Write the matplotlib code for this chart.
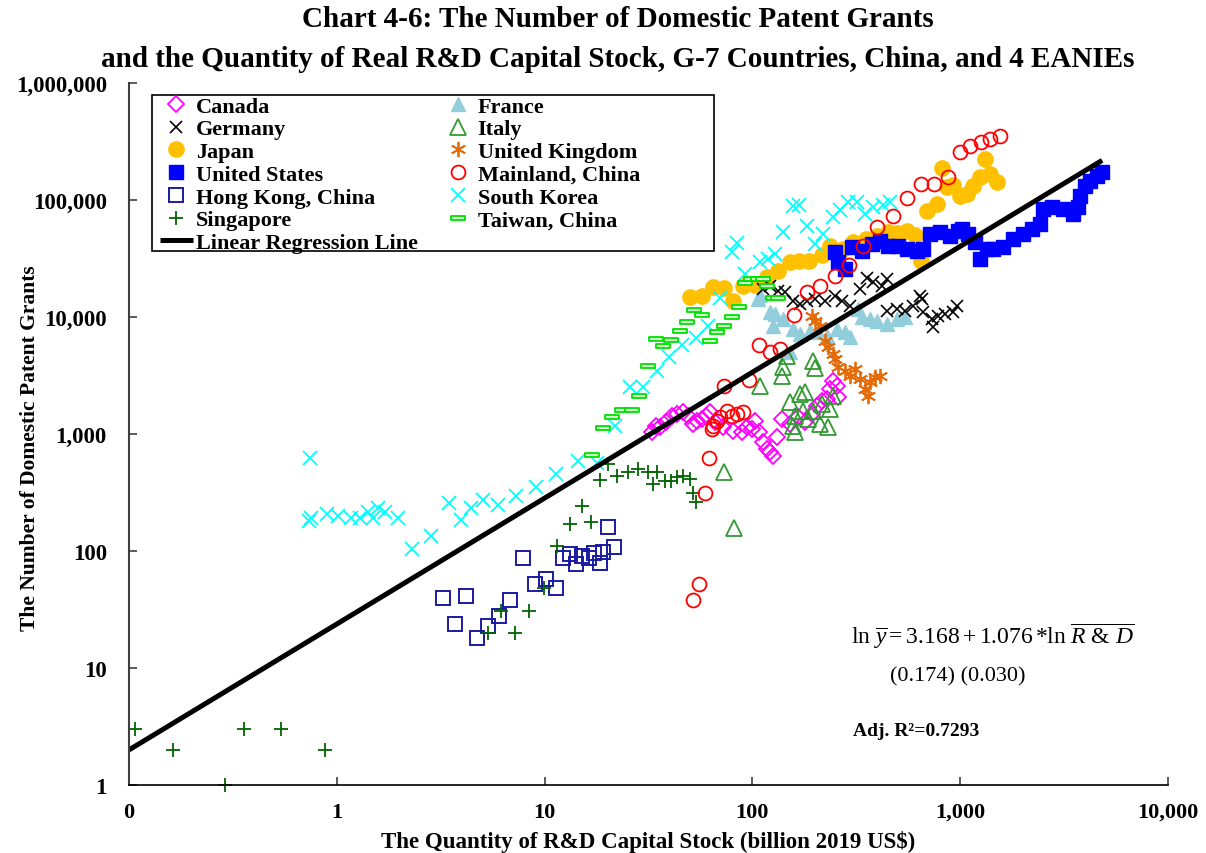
import numpy as np
import matplotlib
matplotlib.use("Agg")
import matplotlib.pyplot as plt
from matplotlib.patches import Rectangle
from matplotlib.path import Path

plt.rcParams['font.family'] = 'Liberation Serif'
plt.rcParams['mathtext.fontset'] = 'custom'
plt.rcParams['mathtext.rm'] = 'Liberation Serif'
plt.rcParams['mathtext.it'] = 'Liberation Serif:italic'
plt.rcParams['mathtext.bf'] = 'Liberation Serif:bold'

# R&D capital stock (billion 2019 US$) vs number of domestic patent grants
canada_x = [33.0, 34.2, 36.1, 38.6, 41.2, 43.6, 46.6, 49.2, 51.5, 54.4, 57.5, 60.1, 62.8, 66.4, 71.8, 81.1, 89.5, 94.6, 100, 103,
            107, 113, 118, 122, 126, 132, 139, 152, 165, 180, 194, 205, 217, 229, 237, 245, 256, 259]
canada_y = [1040, 1170, 1148, 1267, 1425, 1482, 1543, 1425, 1218, 1292, 1343, 1425, 1543, 1267, 1148, 1061, 1040, 1148, 1104, 1292,
            1040, 855, 745, 702, 649, 943, 1343, 1218, 1397, 1267, 1482, 1735, 1914, 1991, 2425, 2838, 2570, 2070]

germany_x = [112, 122, 133, 144, 156, 170, 184, 201, 224, 251, 271, 296, 331, 357, 382, 422, 446, 446, 498, 544,
             594, 657, 664, 733, 741, 783, 847, 925, 967, 642]
germany_y = [17350, 18400, 16680, 16370, 13700, 12900, 13700, 14260, 13700, 15110, 13700, 12420, 17350, 21530, 19900, 18400, 21130, 11250, 11700, 11250,
             12420, 14260, 11040, 9620, 8220, 10200, 10600, 11040, 12420, 15110]

japan_x = [50.3, 57.5, 64.9, 72.6, 81.1, 90.6, 103, 117, 133, 151, 168, 188, 217, 237, 274, 306, 353, 399, 451, 498,
           556, 608, 649, 694, 775, 819, 866, 925, 1000, 1081, 1155, 1248, 1319, 1394, 1507]
japan_y = [14830, 15110, 18040, 17700, 13700, 18400, 18790, 21980, 24740, 29500, 30100, 30100, 33900, 40400, 38100, 43800, 46400, 49200, 53200, 52200,
           54300, 50200, 30100, 80500, 92400, 187800, 129100, 134400, 108200, 112500, 131800, 157300, 224000, 166800, 142600]

us_x = [251, 259, 280, 303, 338, 377, 412, 451, 504, 556, 621, 664, 718, 801, 896, 978, 1023, 1093, 1181, 1248,
        1348, 1442, 1611, 1800, 2011, 2220, 2426, 2507, 2769, 3126, 3492, 3690, 3776, 3991, 4217, 4560, 4820]
us_y = [35900, 29500, 25700, 39700, 36600, 42100, 44600, 40400, 40400, 38100, 36600, 38100, 51200, 53200, 49200, 54300, 56500, 51200, 43800, 31300,
        38100, 38100, 39700, 46400, 51200, 56500, 62300, 83800, 87100, 83800, 75900, 87100, 108200, 131800, 145300, 160300, 173500]

hk_x = [3.23, 3.69, 4.17, 4.71, 5.32, 6.01, 6.79, 7.84, 8.95, 10.2, 11.3, 12.2, 13.2, 14.1, 15.1, 16.3, 17.2, 18.4, 19.2, 20.3, 21.5]
hk_y = [40, 24, 41, 18, 23, 28, 38, 87, 52, 58, 48, 87, 94, 77, 91, 87, 96, 79, 98, 160, 108]

sg_x = [0.107, 0.163, 0.29, 0.357, 0.538, 0.876, 5.32, 6.14, 7.17, 8.38, 9.89, 11.5, 13.2, 15.1, 16.8, 18.4, 20.3, 22.4, 25.1, 28.0,
        31.3, 33.4, 34.9, 37.8, 40.4, 43.6, 46.6, 50.3, 52.0, 53.8]
sg_y = [3, 2, 1, 3, 3, 2, 20, 31, 20, 31, 48, 110, 170, 243, 177, 405, 554, 438, 473, 502,
        473, 374, 473, 397, 397, 429, 438, 412, 313, 262]

france_x = [152, 126, 122, 106, 109, 129, 141, 156, 170, 190, 208, 229, 256, 280, 296, 323, 338, 369, 399, 446, 498, 544]
france_y = [5020, 8380, 11040, 14260, 15420, 10600, 9620, 7890, 7160, 7590, 7450, 6880, 7890, 7450, 6750, 11700, 10000, 9620, 9240, 8710, 9620, 10000]

italy_x = [81.9, 72.6, 109, 139, 141, 146, 196, 201, 151, 170, 180, 161, 176, 196, 217, 237, 243, 156, 186, 212, 232, 161]
italy_y = [157, 473, 2570, 3130, 3740, 4640, 4200, 3660, 1877, 2198, 2286, 1425, 1574, 1574, 1805, 1635, 2113, 1170, 1343, 1218, 1148, 1040]

uk_x = [194, 201, 212, 224, 232, 243, 251, 259, 280, 296, 313, 331, 349, 361, 369, 390, 412]
uk_y = [10200, 9240, 8380, 6240, 5540, 4830, 4370, 3740, 3450, 3130, 3590, 2950, 2425, 2113, 2780, 3070, 3130]

china_x = [52.0, 55.6, 59.4, 62.1, 64.2, 64.9, 67.9, 70.2, 75.8, 80.1, 84.7, 90.6, 73.3, 96.8, 107, 121, 136, 159, 184, 212,
           251, 293, 342, 399, 476, 556, 649, 750, 875, 1000, 1117, 1262, 1394, 1556]
china_y = [38, 52, 313, 624, 1104, 1170, 1292, 1397, 1574, 1425, 1482, 1543, 2570, 2895, 5760, 5020, 5330, 10400, 16370, 18400,
           22400, 27800, 40400, 58800, 73000, 104000, 137000, 137000, 157300, 257000, 289500, 313000, 332000, 352000]

korea_x = [0.733, 0.75, 0.74, 0.90, 1.01, 1.17, 1.30, 1.41, 1.49, 1.57, 1.70, 1.96, 2.29, 2.83, 3.45, 3.95, 4.41, 5.04, 5.94, 7.25,
           9.05, 11.4, 14.4, 17.8, 21.7, 25.9, 29.6, 34.9, 39.5, 46.0, 53.8, 61.4, 70.2, 80.1, 84.7, 92.5, 109, 119, 129, 141,
           156, 168, 184, 201, 219, 243, 265, 290, 320, 349, 382, 426, 461]
korea_y = [180, 191, 624, 207, 199, 191, 191, 215, 191, 233, 215, 191, 104, 134, 257, 184, 233, 273, 247, 295,
           352, 455, 588, 565, 1170, 2520, 2520, 3450, 4550, 5760, 6620, 8380, 14500, 35900, 42900, 23300, 29500, 31300, 34500, 53200,
           88900, 90600, 60000, 42100, 51200, 71600, 82200, 96100, 96100, 75900, 87100, 90600, 96100]

taiwan_x = [17.0, 19.2, 21.2, 23.5, 26.2, 28.6, 31.6, 34.5, 37.3, 40.8, 44.6, 48.7, 52.6, 57.5, 62.8, 67.9, 73.3, 80.1, 86.6, 92.5,
            98.9, 106, 113, 118, 125, 133]
taiwan_y = [662, 1125, 1397, 1600, 1600, 2113, 3810, 6490, 5650, 6360, 7590, 9060, 11480, 10400, 6240, 7450, 8380, 10000, 12170, 19530,
            21130, 21130, 21130, 18400, 14500, 14500]

# regression: ln y = 3.168 + 1.076 ln x
b0, b1 = 3.168, 1.076

xticks = [0.1, 1, 10, 100, 1000, 10000]
xtick_labels = ['0', '1', '10', '100', '1,000', '10,000']
yticks = [1, 10, 100, 1000, 10000, 100000, 1000000]
ytick_labels = ['1', '10', '100', '1,000', '10,000', '100,000', '1,000,000']

fig = plt.figure(figsize=(12.06, 8.54), dpi=100)
ax = fig.add_axes([129/1206, 68/854, 1039/1206, 702/854])
ax.set_xscale('log')
ax.set_yscale('log')
ax.set_xlim(0.1, 10000)
ax.set_ylim(1, 1000000)

tw_marker = Path([(-1, -0.3), (1, -0.3), (1, 0.3), (-1, 0.3), (-1, -0.3)],
                 [Path.MOVETO, Path.LINETO, Path.LINETO, Path.LINETO, Path.CLOSEPOLY])

h_fr, = ax.plot(france_x, france_y, ls='none', marker='^', ms=10, color='#92CDDC', mec='#92CDDC', label='France')
h_ca, = ax.plot(canada_x, canada_y, ls='none', marker='D', ms=8, mfc='none', mec='#FF00FF', mew=1.3, label='Canada')
h_it, = ax.plot(italy_x, italy_y, ls='none', marker='^', ms=11, mfc='none', mec='#339933', mew=1.3, label='Italy')
h_jp, = ax.plot(japan_x, japan_y, ls='none', marker='o', ms=11, color='#FFC000', label='Japan')
h_us, = ax.plot(us_x, us_y, ls='none', marker='s', ms=10, color='#0000FF', label='United States')
h_de, = ax.plot(germany_x, germany_y, ls='none', marker='x', ms=9, color='black', mew=1.2, label='Germany')
h_uk, = ax.plot(uk_x, uk_y, ls='none', marker=(6, 2, 0), ms=11, color='#E36C09', mew=1.3, label='United Kingdom')
h_hk, = ax.plot(hk_x, hk_y, ls='none', marker='s', ms=10, mfc='none', mec='#1A1AA0', mew=1.4, label='Hong Kong, China')
h_sg, = ax.plot(sg_x, sg_y, ls='none', marker='+', ms=10, color='#006400', mew=1.3, clip_on=False, label='Singapore')
h_kr, = ax.plot(korea_x, korea_y, ls='none', marker='x', ms=10, color='#00FFFF', mew=1.3, label='South Korea')
h_tw, = ax.plot(taiwan_x, taiwan_y, ls='none', marker=tw_marker, ms=10, mfc='#CCFFCC', mec='#00E000', mew=1.3, label='Taiwan, China')
h_cn, = ax.plot(china_x, china_y, ls='none', marker='o', ms=10, mfc='none', mec='#FF0000', mew=1.3, label='Mainland, China')

reg_x = np.geomspace(0.1, 4820, 50)
reg_y = np.exp(b0 + b1 * np.log(reg_x))
h_reg, = ax.plot(reg_x, reg_y, color='black', lw=3.6, solid_capstyle='butt', label='Linear Regression Line')

for s in ['top', 'right']:
    ax.spines[s].set_visible(False)
ax.spines['left'].set_color('#404040')
ax.spines['left'].set_linewidth(1.5)
ax.spines['bottom'].set_color('black')
ax.spines['bottom'].set_linewidth(1.2)

ax.set_xticks(xticks)
ax.set_xticklabels(xtick_labels, fontweight='bold', fontsize=16)
ax.set_yticks(yticks)
ax.set_yticklabels(ytick_labels, fontweight='bold', fontsize=16.5)
ax.xaxis.set_minor_locator(matplotlib.ticker.NullLocator())
ax.yaxis.set_minor_locator(matplotlib.ticker.NullLocator())
ax.tick_params(axis='both', direction='in', length=6, width=1.2, color='#404040')
ax.tick_params(axis='x', pad=12)
ax.tick_params(axis='y', pad=16)

ax.set_xlabel('The Quantity of R&D Capital Stock (billion 2019 US\\$)', fontsize=16.5, fontweight='bold')
ax.xaxis.set_label_coords(0.5, -0.064)
ax.set_ylabel('The Number of Domestic Patent Grants', fontsize=15.5, fontweight='bold')
ax.yaxis.set_label_coords(-0.0857, 0.481)

fig.text(0.512, 0.993, 'Chart 4-6: The Number of Domestic Patent Grants\n'
         'and the Quantity of Real R&D Capital Stock, G-7 Countries, China, and 4 EANIEs',
         ha='center', va='top', fontsize=21, fontweight='bold', linespacing=1.62)

# legend with its own frame
handles = [h_ca, h_de, h_jp, h_us, h_hk, h_sg, h_reg, h_fr, h_it, h_uk, h_cn, h_kr, h_tw]
ax.legend(handles=handles, loc='upper left', bbox_to_anchor=(0.0294, 0.9815), ncol=2, frameon=False,
          prop={'family': 'Liberation Serif', 'weight': 'bold', 'size': 16}, borderpad=0, borderaxespad=0,
          handlelength=1.5, handletextpad=0.15, columnspacing=1.02, labelspacing=0.1)
ax.add_patch(Rectangle((0.0221, 0.7607), 0.5409, 0.2222, transform=ax.transAxes, facecolor='white',
                       edgecolor='black', lw=1.2, zorder=4.5, clip_on=False))

ax.text(0.8316, 0.2137, r'$\mathrm{ln}\ \overline{y} = 3.168 + 1.076\,{*}\mathrm{ln}\ \overline{R\ &\ D}$',
        transform=ax.transAxes, ha='center', va='center', fontsize=17)
ax.text(0.798, 0.155, '(0.174) (0.030)', transform=ax.transAxes, ha='center', va='center', fontsize=16)
ax.text(0.758, 0.077, 'Adj. R²=0.7293', transform=ax.transAxes, ha='center', va='center', fontsize=14, fontweight='bold')

fig.savefig('out.png', dpi=100)
